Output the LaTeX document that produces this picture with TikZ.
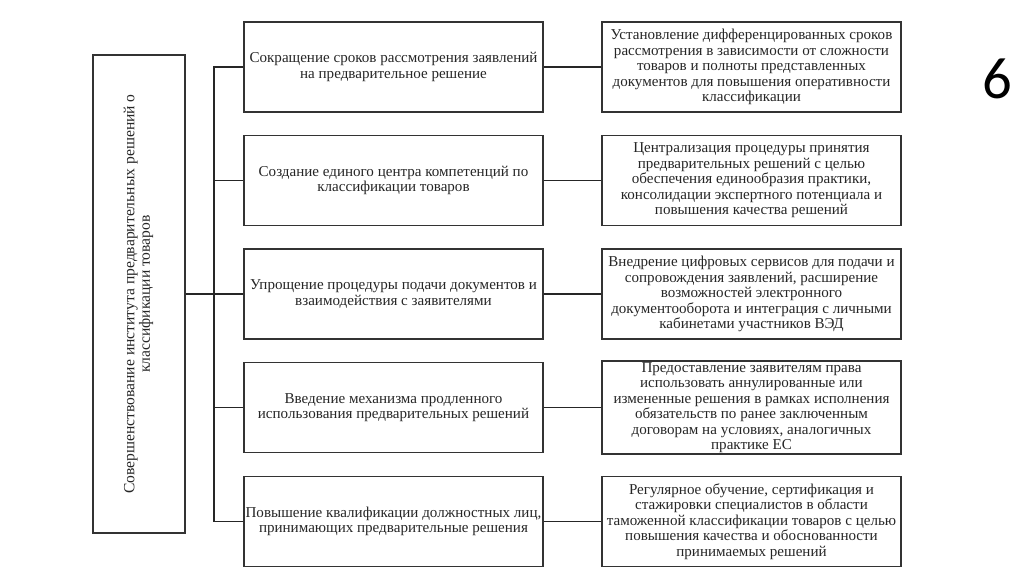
\documentclass[tikz,border=0pt]{standalone}
\usepackage{graphicx}
\usepackage{fontspec}
\setmainfont{Liberation Serif}
\newfontfamily\pagenumfont{Carlito}
\tikzset{
  box/.style={draw=black!80, line width=1pt, align=center, inner sep=1pt,
    text=black!85, font=\fontsize{11.3}{11.6}\selectfont},
  midbox/.style={box, minimum width=224.25pt, minimum height=67.5pt},
  sidebox/.style={box, minimum width=224.25pt, minimum height=67.5pt},
  link/.style={draw=black!85, line width=0.9pt}
}
\begin{document}
\begin{tikzpicture}[x=0.75pt, y=-0.75pt]
\useasboundingbox (0,0) rectangle (1024,574);
\node[box, minimum width=69pt, minimum height=358.5pt, font=\fontsize{11.7}{11.4}\selectfont] (root) at (139,294)
  {\rotatebox{90}{\begin{tabular}{@{}c@{}}Совершенствование института предварительных решений о\\ классификации товаров\end{tabular}}};
\node[midbox] (m1) at (393.5,67) {Сокращение сроков рассмотрения заявлений\\на предварительное решение};
\node[midbox] (m2) at (393.5,180.5) {Создание единого центра компетенций по\\классификации товаров};
\node[midbox] (m3) at (393.5,294) {Упрощение процедуры подачи документов и\\взаимодействия с заявителями};
\node[midbox] (m4) at (393.5,407.5) {Введение механизма продленного\\использования предварительных решений};
\node[midbox] (m5) at (393.5,521.5) {Повышение квалификации должностных лиц,\\принимающих предварительные решения};
\node[sidebox] (s1) at (751.5,67) {Установление дифференцированных сроков\\рассмотрения в зависимости от сложности\\товаров и полноты представленных\\документов для повышения оперативности\\классификации};
\node[sidebox] (s2) at (751.5,180.5) {Централизация процедуры принятия\\предварительных решений с целью\\обеспечения единообразия практики,\\консолидации экспертного потенциала и\\повышения качества решений};
\node[sidebox] (s3) at (751.5,294) {Внедрение цифровых сервисов для подачи и\\сопровождения заявлений, расширение\\возможностей электронного\\документооборота и интеграция с личными\\кабинетами участников ВЭД};
\node[sidebox] (s4) at (751.5,407.5) {Предоставление заявителям права\\использовать аннулированные или\\измененные решения в рамках исполнения\\обязательств по ранее заключенным\\договорам на условиях, аналогичных\\практике ЕС};
\node[sidebox] (s5) at (751.5,521.5) {Регулярное обучение, сертификация и\\стажировки специалистов в области\\таможенной классификации товаров с целью\\повышения качества и обоснованности\\принимаемых решений};
\node[font=\pagenumfont\fontsize{44}{44}\selectfont, text=black] (pnum) at (997,79) {6};
\coordinate (bus) at (214,294);
\draw[link] (root.east) -- (bus);
\foreach \i in {1,...,5} {
  \draw[link] (m\i.west) -| (bus);
  \draw[link] (m\i.east) -- (s\i.west);
}
\end{tikzpicture}
\end{document}
